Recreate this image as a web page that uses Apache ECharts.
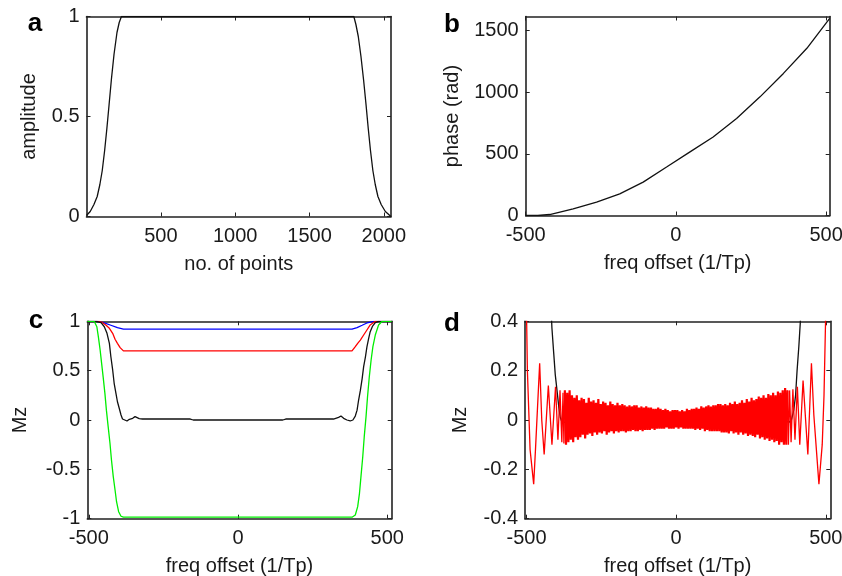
<!DOCTYPE html>
<html><head><meta charset="utf-8">
<script src="https://cdn.jsdelivr.net/npm/echarts@6/dist/echarts.min.js"></script>
<style>html,body{margin:0;padding:0;background:#fff}#c{width:842px;height:576px}</style>
</head><body><div id="c"></div><script>
// ---- panel a : pulse amplitude ----
const ampX = [0,25,50,72,90,106,122,137,152,168,185,205,220,235,1798,1812,1828,1846,1864,1880,1895,1910,1926,1942,1960,1982,2010,2040,2048];
const ampY = [0.005,0.025,0.06,0.1,0.16,0.23,0.33,0.44,0.56,0.69,0.81,0.92,0.97,1.0,1.0,0.96,0.9,0.8,0.68,0.56,0.44,0.33,0.23,0.16,0.1,0.06,0.025,0.005,0.0];
const ampXTicks = [500,1000,1500,2000];
const ampYTicks = [0,0.5,1];
// ---- panel b : phase ----
const phaseX = [-500,-460,-420,-342,-264,-187,-109,-31,47,124,202,280,358,436,512];
const phaseY = [0,0,8,54,108,176,271,393,516,637,787,963,1153,1357,1600];
const phaseXTicks = [-500,0,500];
const phaseYTicks = [0,500,1000,1500];
// ---- panel c : Mz profiles ----
const blueX = [-505,-471,-448,-426,-404,-384,382,399,416,432,455,515];
const blueY = [1,1,0.985,0.96,0.935,0.92,0.92,0.936,0.96,0.983,1,1];
const redX = [-505,-465,-454,-443,-431,-420,-412,-404,-395,-384,382,393,401,410,421,432,443,460,515];
const redY = [1,1.0,0.986,0.963,0.929,0.878,0.818,0.777,0.733,0.70,0.70,0.743,0.777,0.81,0.861,0.912,0.963,1,1];
const blackX = [-505,-476,-459,-448,-439,-431,-426,-420,-415,-409,-404,-398,-392,-387,-381,-372,-364,-353,-345,-339,-331,-320,-160,-150,150,160,320,337,345,354,365,376,385,393,399,404,410,416,421,427,432,438,443,451,460,471,515];
const blackY = [1,1.0,0.986,0.945,0.878,0.777,0.641,0.507,0.372,0.27,0.185,0.119,0.051,0.01,-0.01,-0.01,0.007,0.017,0.034,0.028,0.014,0.01,0.01,0.0,0.0,0.01,0.01,0.027,0.04,0.017,0.0,-0.01,0.0,0.04,0.10,0.20,0.30,0.42,0.54,0.64,0.74,0.83,0.895,0.952,0.986,1.0,1.0];
const greenX = [-505,-482,-473,-468,-462,-457,-452,-446,-441,-435,-429,-424,-418,-412,-407,-400,-392,-384,382,393,401,407,412,418,423,429,434,440,446,452,460,471,483,515];
const greenY = [1,1.0,0.945,0.844,0.709,0.574,0.439,0.27,0.10,-0.07,-0.236,-0.405,-0.574,-0.709,-0.828,-0.929,-0.975,-0.985,-0.985,-0.962,-0.878,-0.743,-0.574,-0.372,-0.169,0.034,0.236,0.439,0.608,0.743,0.861,0.962,1.0,1];
const mzXTicks = [-500,0,500];
const mzYTicks = [-1,-0.5,0,0.5,1];
// ---- panel d : residual Mz (red) ----
const ripLeftX = [-505,-502,-497,-488,-476,-470,-456,-449,-441,-427,-415,-403,-395,-388,-382,-378,-375];
const ripLeftY = [1.0,0.6,0.2,-0.12,-0.26,-0.12,0.23,0.0,-0.14,0.14,-0.10,0.135,-0.08,0.12,-0.09,0.11,-0.095];
const ripMidStart = -372, ripMidStep = 4;
const ripMidY = [
 0.12,-0.10,0.11,-0.09,0.12,-0.08,0.10,-0.09,0.09,-0.07,
 0.10,-0.08,0.08,-0.07,0.09,-0.06,0.085,-0.075,0.07,-0.06,
 0.09,-0.055,0.075,-0.065,0.08,-0.05,0.07,-0.06,0.085,-0.05,
 0.065,-0.055,0.075,-0.045,0.07,-0.06,0.06,-0.05,0.075,-0.045,
 0.065,-0.055,0.06,-0.045,0.07,-0.05,0.06,-0.045,0.065,-0.045,
 0.06,-0.05,0.055,-0.045,0.06,-0.045,0.055,-0.04,0.06,-0.045,
 0.06,-0.045,0.05,-0.04,0.055,-0.045,0.05,-0.04,0.055,-0.04,
 0.05,-0.04,0.05,-0.035,0.045,-0.04,0.045,-0.035,0.05,-0.035,
 0.045,-0.035,0.04,-0.035,0.045,-0.03,0.04,-0.035,0.035,-0.035,
 0.04,-0.035,0.04,-0.03,
 0.04,-0.035,0.035,-0.03,0.04,-0.035,0.035,-0.035,0.045,-0.035,
 0.04,-0.035,0.045,-0.035,0.045,-0.04,0.05,-0.035,0.045,-0.04,
 0.055,-0.035,0.05,-0.045,0.055,-0.04,0.06,-0.045,0.055,-0.045,
 0.06,-0.045,0.06,-0.045,0.065,-0.045,0.065,-0.05,0.06,-0.05,
 0.065,-0.05,0.06,-0.055,0.07,-0.045,0.065,-0.055,0.075,-0.05,
 0.065,-0.06,0.07,-0.05,0.08,-0.06,0.07,-0.055,0.085,-0.065,
 0.075,-0.06,0.09,-0.065,0.08,-0.07,0.085,-0.06,0.095,-0.075,
 0.09,-0.07,0.1,-0.08,0.09,-0.075,0.105,-0.085,0.1,-0.08,
 0.11,-0.09,0.1,-0.085,0.115,-0.1,0.11,-0.09,0.12,-0.1,
 0.13,-0.1,0.12];
const ripRightX = [375,379,384,390,397,405,413,424,440,452,460,477,488,494,500,508,515];
const ripRightY = [-0.10,0.12,-0.09,0.125,-0.08,0.135,-0.10,0.16,-0.14,0.23,0.02,-0.26,-0.1,0.1,0.45,1.0,1.0];
const ripYTicks = [-0.4,-0.2,0,0.2,0.4];

const F = '"Liberation Sans", Arial, sans-serif';
const TXT = '#1a1a1a', AX = '#222';
const pairs = (xs, ys) => xs.map((x, i) => [x, ys[i]]);
const ripMid = ripMidY.map((v, i) => [ripMidStart + i * ripMidStep, v]);
const ripL = pairs(ripLeftX, ripLeftY).concat([ripMid[0]]);
const ripR = [ripMid[ripMid.length - 1]].concat(pairs(ripRightX, ripRightY));
const fmt = v => String(v);

function xAxes(g, min, max, vals, name, gap) {
  const base = {type:'value', gridIndex:g, min, max, splitLine:{show:false},
    axisLine:{show:true, onZero:false, lineStyle:{color:AX, width:1.6}},
    axisTick:{show:true, inside:true, length:4, customValues:vals, lineStyle:{color:AX, width:1}}};
  return [
    Object.assign({}, base, {position:'bottom', name, nameLocation:'middle', nameGap:gap,
      nameTextStyle:{fontFamily:F, fontSize:20, color:TXT},
      axisLabel:{show:true, customValues:vals, formatter:fmt, margin:10, fontFamily:F, fontSize:20, color:TXT}}),
    Object.assign({}, base, {position:'top', axisLabel:{show:false}})
  ];
}
function yAxes(g, min, max, vals, name, gap) {
  const base = {type:'value', gridIndex:g, min, max, splitLine:{show:false},
    axisLine:{show:true, onZero:false, lineStyle:{color:AX, width:1.6}},
    axisTick:{show:true, inside:true, length:4, customValues:vals, lineStyle:{color:AX, width:1}}};
  return [
    Object.assign({}, base, {position:'left', name, nameLocation:'middle', nameGap:gap,
      nameTextStyle:{fontFamily:F, fontSize:20, color:TXT},
      axisLabel:{show:true, customValues:vals, formatter:fmt, margin:7, fontFamily:F, fontSize:20, color:TXT}}),
    Object.assign({}, base, {position:'right', axisLabel:{show:false}})
  ];
}
function line(g, data, color, w) {
  return {type:'line', xAxisIndex:2*g, yAxisIndex:2*g, data, showSymbol:false, symbol:'none',
    lineStyle:{color, width:w}, clip:true, animation:false, silent:true};
}
const grids = [
  {left:86.5, top:16.5, width:304.5, height:200},
  {left:525.7, top:16.5, width:304, height:199},
  {left:87.3, top:321.3, width:304.4, height:197.4},
  {left:525, top:321.3, width:305.3, height:197.4}
].map(g => Object.assign({containLabel:false, outerBoundsMode:'none'}, g));

const option = {
  backgroundColor:'#fff',
  animation:false,
  grid: grids,
  xAxis: [].concat(
    xAxes(0, 0, 2048, ampXTicks, 'no. of points', 38),
    xAxes(1, -500, 512, phaseXTicks, 'freq offset (1/Tp)', 38),
    xAxes(2, -505, 515, mzXTicks, 'freq offset (1/Tp)', 38),
    xAxes(3, -505, 515, mzXTicks, 'freq offset (1/Tp)', 38)),
  yAxis: [].concat(
    yAxes(0, 0, 1, ampYTicks, 'amplitude', 47),
    yAxes(1, 0, 1615, phaseYTicks, 'phase (rad)', 63),
    yAxes(2, -1, 1, mzYTicks, 'Mz', 57),
    yAxes(3, -0.4, 0.4, ripYTicks, 'Mz', 55)),
  series: [
    line(0, pairs(ampX, ampY), '#111', 1.3),
    line(1, pairs(phaseX, phaseY), '#111', 1.3),
    line(2, pairs(blueX, blueY), '#0000ff', 1.3),
    line(2, pairs(redX, redY), '#ff0000', 1.3),
    line(2, pairs(blackX, blackY), '#111', 1.3),
    line(2, pairs(greenX, greenY), '#00ee00', 1.3),
    line(3, pairs(blackX, blackY), '#111', 1.3),
    line(3, ripL, '#ff0000', 1.3),
    line(3, ripMid, '#ff0000', 2.2),
    line(3, ripR, '#ff0000', 1.3)
  ],
  graphic: [
    {type:'text', x:35, y:24, style:{text:'a', font:'bold 26px "Liberation Sans"', fill:'#000', textAlign:'center', textVerticalAlign:'middle'}},
    {type:'text', x:452, y:25, style:{text:'b', font:'bold 26px "Liberation Sans"', fill:'#000', textAlign:'center', textVerticalAlign:'middle'}},
    {type:'text', x:36, y:321, style:{text:'c', font:'bold 26px "Liberation Sans"', fill:'#000', textAlign:'center', textVerticalAlign:'middle'}},
    {type:'text', x:452, y:324, style:{text:'d', font:'bold 26px "Liberation Sans"', fill:'#000', textAlign:'center', textVerticalAlign:'middle'}}
  ]
};
const chart = echarts.init(document.getElementById('c'), null, {renderer:'canvas'});
chart.setOption(option);
</script></body></html>
